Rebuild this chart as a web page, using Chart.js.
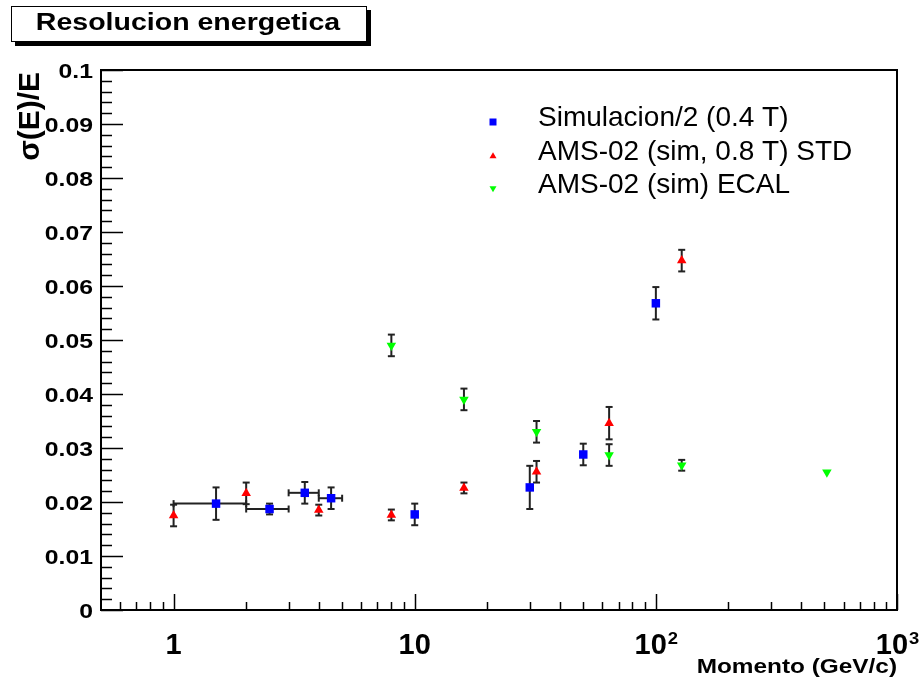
<!DOCTYPE html>
<html>
<head>
<meta charset="utf-8">
<script src="https://cdn.jsdelivr.net/npm/chart.js@4.4.0/dist/chart.umd.min.js"></script>
<style>
  body { margin: 0; background: #fff; }
</style>
</head>
<body>
<canvas id="grafico" width="924" height="685"></canvas>
<script>
// Simulacion/2 (0.4 T)
const simX = [1.5, 2.5, 3.5, 4.5, 10, 30, 50, 100];
const simY = [0.0197, 0.0187, 0.0217, 0.0207, 0.0177, 0.0227, 0.0288, 0.0568];
const simErrY = [0.003, 0.001, 0.002, 0.002, 0.002, 0.004, 0.002, 0.003];
const simErrX = [[1, 2], [2, 3], [3, 4], [4, 5], null, null, null, null];

// AMS-02 (sim, 0.8 T) STD
const stdX = [1, 2, 4, 8, 16, 32, 64, 128];
const stdY = [0.0175, 0.0216, 0.0185, 0.0176, 0.0226, 0.0256, 0.0346, 0.0647];
const stdErrY = [0.002, 0.002, 0.001, 0.001, 0.001, 0.002, 0.003, 0.002];

// AMS-02 (sim) ECAL
const ecalX = [8, 16, 32, 64, 128, 512];
const ecalY = [0.049, 0.039, 0.033, 0.0287, 0.0268, 0.0255];
const ecalErrY = [0.002, 0.002, 0.002, 0.002, 0.001, 0];

const yTicks = [0, 0.01, 0.02, 0.03, 0.04, 0.05, 0.06, 0.07, 0.08, 0.09, 0.1];
const xTicks = [1, 10, 100, 1000];

const puntos = (xs, ys) => xs.map((x, i) => ({ x: x, y: ys[i] }));

function linea(ctx, x1, y1, x2, y2) {
  ctx.beginPath();
  ctx.moveTo(x1, y1);
  ctx.lineTo(x2, y2);
  ctx.stroke();
}

function texto(ctx, t, x, y, font, align, sx) {
  ctx.save();
  ctx.font = font;
  ctx.textAlign = align;
  ctx.textBaseline = 'alphabetic';
  ctx.fillStyle = '#000';
  ctx.translate(x, y);
  ctx.scale(sx, 1);
  ctx.fillText(t, 0, 0);
  ctx.restore();
}

function marcador(ctx, estilo, color, x, y, r) {
  ctx.save();
  ctx.fillStyle = color;
  ctx.beginPath();
  if (estilo === 'rect') {
    ctx.rect(x - r, y - r, 2 * r, 2 * r);
  } else if (estilo === 'abajo') {
    ctx.moveTo(x - r, y - r * 0.8);
    ctx.lineTo(x + r, y - r * 0.8);
    ctx.lineTo(x, y + r * 0.9);
  } else {
    ctx.moveTo(x - r, y + r * 0.8);
    ctx.lineTo(x + r, y + r * 0.8);
    ctx.lineTo(x, y - r * 0.9);
  }
  ctx.closePath();
  ctx.fill();
  ctx.restore();
}

// barras de error, dibujadas antes de los puntos
const barrasError = {
  id: 'barrasError',
  beforeDatasetsDraw(chart) {
    const ctx = chart.ctx;
    const xs = chart.scales.x, ys = chart.scales.y;
    ctx.save();
    ctx.strokeStyle = '#222';
    ctx.lineWidth = 2;
    chart.data.datasets.forEach(ds => {
      ds.data.forEach((p, i) => {
        const px = xs.getPixelForValue(p.x);
        const py = ys.getPixelForValue(p.y);
        const ey = ds.errY[i];
        if (ey > 0) {
          const y1 = ys.getPixelForValue(p.y + ey);
          const y2 = ys.getPixelForValue(p.y - ey);
          linea(ctx, px, y1, px, y2);
          linea(ctx, px - 3.5, y1, px + 3.5, y1);
          linea(ctx, px - 3.5, y2, px + 3.5, y2);
        }
        if (ds.errX && ds.errX[i]) {
          const x1 = xs.getPixelForValue(ds.errX[i][0]);
          const x2 = xs.getPixelForValue(ds.errX[i][1]);
          linea(ctx, x1, py, x2, py);
          linea(ctx, x1, py - 3.5, x1, py + 3.5);
          linea(ctx, x2, py - 3.5, x2, py + 3.5);
        }
      });
    });
    ctx.restore();
  }
};

// marco, ejes, etiquetas, titulo y leyenda al estilo ROOT
const ejesRoot = {
  id: 'ejesRoot',
  afterDraw(chart) {
    const ctx = chart.ctx;
    const xs = chart.scales.x, ys = chart.scales.y;
    const a = chart.chartArea;
    ctx.save();
    ctx.strokeStyle = '#000';
    ctx.lineWidth = 2;
    ctx.strokeRect(a.left, a.top, a.right - a.left, a.bottom - a.top);

    // ticks eje y (hacia dentro)
    for (let k = 0; k <= 50; k++) {
      const v = k * 0.002;
      const py = Math.round(ys.getPixelForValue(v)) + 0.5;
      const largo = (k % 5 === 0) ? 22 : 11;
      ctx.lineWidth = 1.5;
      linea(ctx, a.left, py, a.left + largo, py);
    }
    yTicks.forEach(v => {
      const py = ys.getPixelForValue(v);
      texto(ctx, String(v), 93, py + 7.5, 'bold 21px "Liberation Sans"', 'right', 1.18);
    });

    // ticks eje x logaritmico
    for (let e = -1; e <= 3; e++) {
      for (let m = 1; m <= 9; m++) {
        const v = m * Math.pow(10, e);
        if (v <= xs.min || v > xs.max) continue;
        const px = Math.round(xs.getPixelForValue(v)) + 0.5;
        const largo = (m === 1) ? 16 : 8;
        ctx.lineWidth = 1.5;
        linea(ctx, px, a.bottom, px, a.bottom - largo);
      }
    }
    xTicks.forEach(v => {
      const px = xs.getPixelForValue(v);
      const exp = Math.round(Math.log10(v));
      if (exp < 2) {
        texto(ctx, String(v), px, 654, 'bold 29px "Liberation Sans"', 'center', 1);
      } else {
        ctx.font = 'bold 29px "Liberation Sans"';
        const w1 = ctx.measureText('10').width;
        ctx.font = 'bold 16px "Liberation Sans"';
        const w2 = ctx.measureText(String(exp)).width * 1.15;
        const x0 = px - (w1 + w2) / 2;
        texto(ctx, '10', x0, 654, 'bold 29px "Liberation Sans"', 'left', 1);
        texto(ctx, String(exp), x0 + w1 + 1, 644, 'bold 16px "Liberation Sans"', 'left', 1.15);
      }
    });

    // titulos de ejes
    texto(ctx, 'Momento (GeV/c)', 897, 673, 'bold 21px "Liberation Sans"', 'right', 1.16);
    ctx.save();
    ctx.translate(39, 72);
    ctx.rotate(-Math.PI / 2);
    ctx.font = 'bold 30px "Liberation Sans"';
    ctx.textAlign = 'right';
    ctx.fillStyle = '#000';
    ctx.fillText('\u03C3(E)/E', 0, 0);
    ctx.restore();

    // caja de titulo con sombra
    ctx.fillStyle = '#000';
    ctx.fillRect(15, 10, 356, 36);
    ctx.fillStyle = '#fff';
    ctx.fillRect(11, 6, 356, 36);
    ctx.lineWidth = 1;
    ctx.strokeRect(11.5, 6.5, 355, 35);
    texto(ctx, 'Resolucion energetica', 188, 30, 'bold 23px "Liberation Sans"', 'center', 1.24);

    // leyenda
    chart.data.datasets.forEach((ds, i) => {
      const base = 126 + i * 33.5;
      marcador(ctx, ds.marca, ds.backgroundColor, 493, base - 4, 3.5);
      texto(ctx, ds.label, 538, base, '28px "Liberation Sans"', 'left', 1);
    });
    ctx.restore();
  }
};

new Chart(document.getElementById('grafico'), {
  type: 'scatter',
  data: {
    datasets: [
      {
        label: 'Simulacion/2 (0.4 T)',
        data: puntos(simX, simY),
        errY: simErrY,
        errX: simErrX,
        marca: 'rect',
        pointStyle: 'rect',
        pointRadius: 6,
        backgroundColor: '#0000ff',
        borderWidth: 0
      },
      {
        label: 'AMS-02 (sim, 0.8 T) STD',
        data: puntos(stdX, stdY),
        errY: stdErrY,
        marca: 'arriba',
        pointStyle: 'triangle',
        pointRadius: 5.5,
        backgroundColor: '#ff0000',
        borderWidth: 0
      },
      {
        label: 'AMS-02 (sim) ECAL',
        data: puntos(ecalX, ecalY),
        errY: ecalErrY,
        marca: 'abajo',
        pointStyle: 'triangle',
        rotation: 180,
        pointRadius: 5.5,
        backgroundColor: '#00ff00',
        borderWidth: 0
      }
    ]
  },
  options: {
    responsive: false,
    animation: false,
    layout: { padding: { left: 101, right: 27, top: 70, bottom: 75 } },
    plugins: {
      legend: { display: false },
      title: { display: false },
      tooltip: { enabled: false }
    },
    scales: {
      x: { type: 'logarithmic', min: 0.5, max: 1000, display: false },
      y: { type: 'linear', min: 0, max: 0.1, display: false }
    }
  },
  plugins: [barrasError, ejesRoot]
});
</script>
</body>
</html>
